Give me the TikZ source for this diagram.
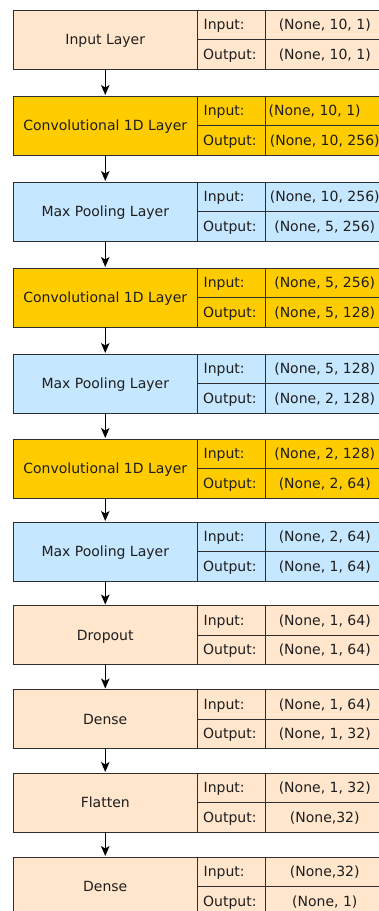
\documentclass[tikz,border=0pt]{standalone}
\usepackage{fontspec}
\setmainfont{DejaVu Sans}
\usetikzlibrary{arrows.meta}
\definecolor{peach}{HTML}{FFE6CC}
\definecolor{gold}{HTML}{FFCC00}
\definecolor{skyb}{HTML}{C5E7FF}
\definecolor{edge}{HTML}{2E2E2E}
\definecolor{ink}{HTML}{1E1E1E}
\tikzset{
  cell/.style={draw=edge, line width=1pt, rectangle, inner sep=0pt, outer sep=0pt,
    anchor=north west, text=ink, font=\fontsize{14}{16}\selectfont,
    text height=10pt, text depth=0pt},
  maincell/.style={cell, minimum width=183.5pt, minimum height=59pt},
  lblcell/.style={cell, minimum width=68.5pt, minimum height=29.5pt},
  valcell/.style={cell, minimum width=118.5pt, minimum height=29.5pt},
  lbl/.style={anchor=west, inner sep=0pt, text=ink, font=\fontsize{14}{16}\selectfont,
    text height=10pt, text depth=0pt},
  arr/.style={draw=black, line width=1pt, -{Stealth[length=10pt,width=8.5pt,inset=2.5pt]}, shorten >=1pt},
}
% #1 name, #2 top y, #3 fill colour, #4 title, #5 input value, #6 output value
\newcommand\layerbox[6]{%
  \node[maincell, fill=#3] (#1) at (13.5,#2) {#4};
  \node[lblcell, fill=#3] (#1il) at (#1.north east) {};
  \node[lblcell, fill=#3] (#1ol) at (#1il.south west) {};
  \node[valcell, fill=#3] (#1iv) at (#1il.north east) {#5};
  \node[valcell, fill=#3] (#1ov) at (#1ol.north east) {#6};
  \node[lbl] (#1it) at ([xshift=6.5pt]#1il.west) {Input:};
  \node[lbl] (#1ot) at ([xshift=6pt]#1ol.west) {Output:};
}
\begin{document}
\begin{tikzpicture}[x=1pt,y=-1pt]
\useasboundingbox (0,0) rectangle (379,911);
\clip (0,0) rectangle (379,911);
\layerbox{L1}{10}{peach}{Input Layer}{(None, 10, 1)}{(None, 10, 1)}
\layerbox{L2}{96}{gold}{Convolutional 1D Layer}{}{(None, 10, 256)}
\node[lbl] (L2ivt) at ([xshift=3pt]L2iv.west) {(None, 10, 1)};
\layerbox{L3}{182}{skyb}{Max Pooling Layer}{(None, 10, 256)}{(None, 5, 256)}
\layerbox{L4}{268}{gold}{Convolutional 1D Layer}{(None, 5, 256)}{(None, 5, 128)}
\layerbox{L5}{354}{skyb}{Max Pooling Layer}{(None, 5, 128)}{(None, 2, 128)}
\layerbox{L6}{439}{gold}{Convolutional 1D Layer}{(None, 2, 128)}{(None, 2, 64)}
\layerbox{L7}{522}{skyb}{Max Pooling Layer}{(None, 2, 64)}{(None, 1, 64)}
\layerbox{L8}{605.5}{peach}{Dropout}{(None, 1, 64)}{(None, 1, 64)}
\layerbox{L9}{689.5}{peach}{Dense}{(None, 1, 64)}{(None, 1, 32)}
\layerbox{L10}{773}{peach}{Flatten}{(None, 1, 32)}{(None,32)}
\layerbox{L11}{857}{peach}{Dense}{(None,32)}{(None, 1)}
\foreach \a/\b in {L1/L2,L2/L3,L3/L4,L4/L5,L5/L6,L6/L7,L7/L8,L8/L9,L9/L10,L10/L11}
  \draw[arr] (\a.south) -- (\b.north);
\end{tikzpicture}
\end{document}
